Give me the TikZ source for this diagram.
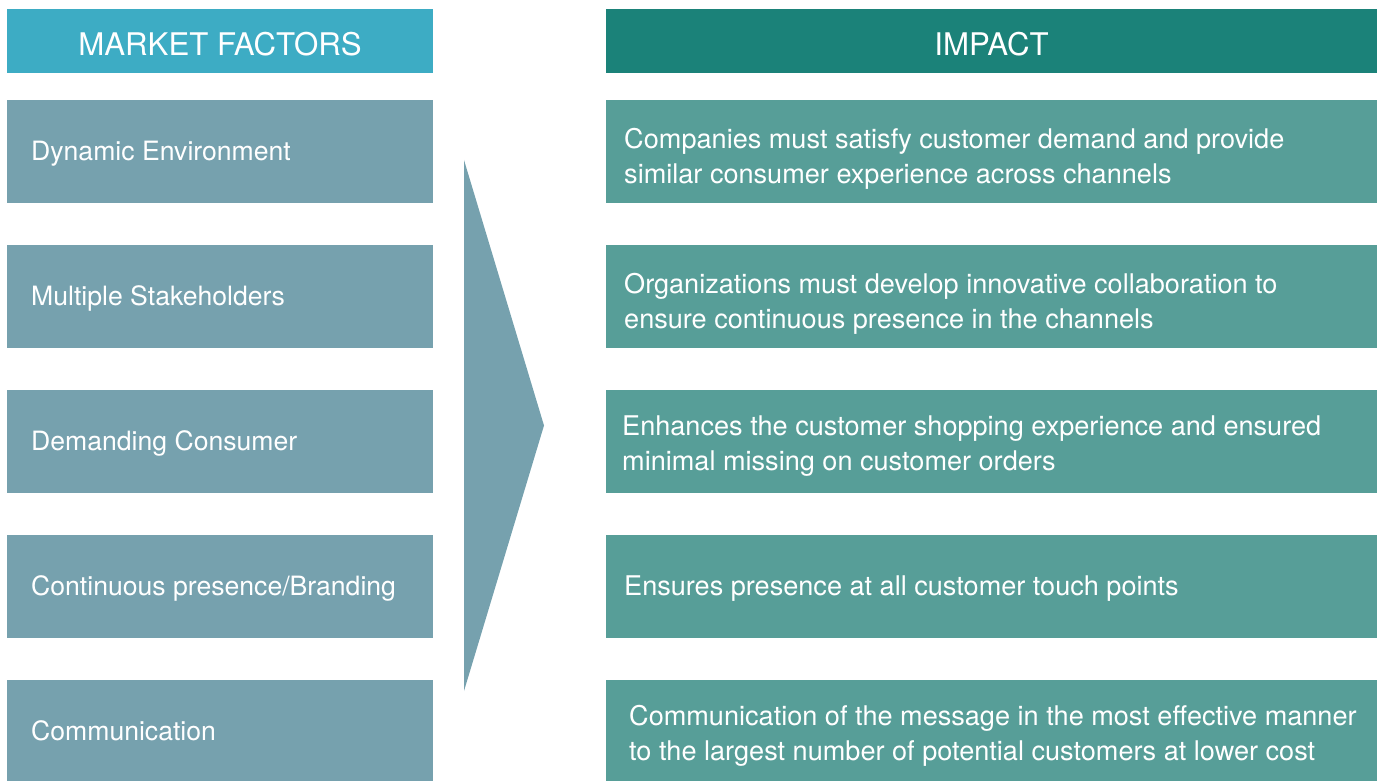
\documentclass[tikz,border=0pt]{standalone}
\usepackage{fontspec}
\setmainfont{TeX Gyre Heros}
\definecolor{factorhead}{HTML}{3DACC4}
\definecolor{impacthead}{HTML}{1B8279}
\definecolor{factorfill}{HTML}{76A1AE}
\definecolor{impactfill}{HTML}{579E98}
\begin{document}
\begin{tikzpicture}[x=1pt,y=-1pt,
  headbox/.style={fill=#1, draw=none, inner sep=0pt, minimum height=64pt,
    anchor=north west},
  headtext/.style={text=white, inner sep=0pt, anchor=base,
    font=\fontsize{31.2}{36}\selectfont},
  factorbox/.style={fill=factorfill, draw=none, inner sep=0pt,
    minimum width=426pt, minimum height=103pt, anchor=north west},
  impactbox/.style={fill=impactfill, draw=none, inner sep=0pt,
    minimum width=771pt, minimum height=103pt, anchor=north west},
  factortext/.style={text=white, inner sep=0pt, anchor=base west,
    font=\fontsize{26.6}{35}\selectfont},
  impacttext/.style={text=white, inner sep=0pt, anchor=base west, align=left,
    font=\fontsize{27.1}{35}\selectfont},
]
\useasboundingbox (0,0) rectangle (1379,781);

% column headers
\node[headbox=factorhead, minimum width=426pt] (fh) at (7,9) {};
\node[headbox=impacthead, minimum width=771pt] (ih) at (606,9) {};
\node[headtext] (fht) at (220,56) {MARKET FACTORS};
\node[headtext] (iht) at (991.5,56) {IMPACT};

% market factor boxes
\node[factorbox] (f1) at (7,100) {};
\node[factorbox] (f2) at (7,245) {};
\node[factorbox] (f3) at (7,390) {};
\node[factorbox] (f4) at (7,535) {};
\node[factorbox] (f5) at (7,680) {};
\node[factortext] (f1t) at (31,160.5) {Dynamic Environment};
\node[factortext] (f2t) at (31,305.5) {Multiple Stakeholders};
\node[factortext] (f3t) at (31,450.5) {Demanding Consumer};
\node[factortext] (f4t) at (31,595.5) {Continuous presence/Branding};
\node[factortext] (f5t) at (31,740.5) {Communication};

% impact boxes (text anchored at the baseline of its last line)
\node[impactbox] (i1) at (606,100) {};
\node[impactbox] (i2) at (606,245) {};
\node[impactbox] (i3) at (606,390) {};
\node[impactbox] (i4) at (606,535) {};
\node[impactbox] (i5) at (606,680) {};
\node[impacttext] (i1t) at (624,183) {Companies must satisfy customer demand and provide\\similar consumer experience across channels};
\node[impacttext] (i2t) at (624,328) {Organizations must develop innovative collaboration to\\ensure continuous presence in the channels};
\node[impacttext] (i3t) at (622,470) {Enhances the customer shopping experience and ensured\\minimal missing on customer orders};
\node[impacttext] (i4t) at (624,595) {Ensures presence at all customer touch points};
\node[impacttext] (i5t) at (629,760) {Communication of the message in the most effective manner\\to the largest number of potential customers at lower cost};

% chevron between the columns
\fill[factorfill] (464,160) -- (544,425.5) -- (464,691) -- cycle;
\end{tikzpicture}
\end{document}
